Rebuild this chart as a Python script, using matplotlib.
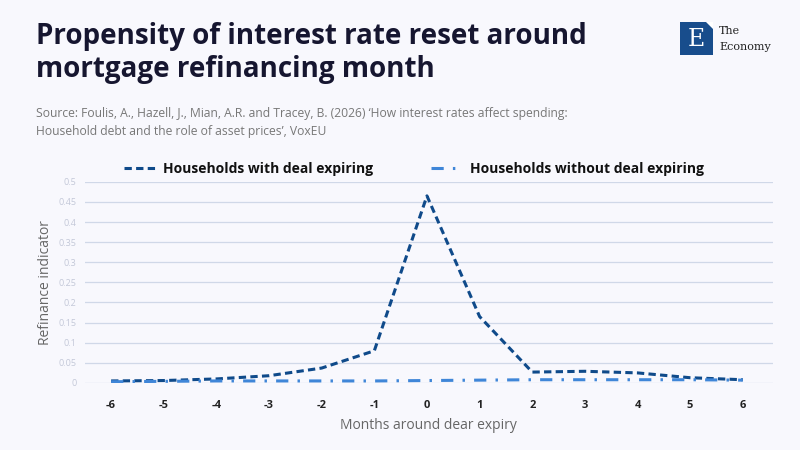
import matplotlib.pyplot as plt
from matplotlib.patches import Rectangle, Polygon

# datos
months = [-6, -5, -4, -3, -2, -1, 0, 1, 2, 3, 4, 5, 6]
with_deal = [0.005, 0.006, 0.010, 0.018, 0.037, 0.080, 0.465, 0.165, 0.027, 0.029, 0.025, 0.013, 0.008]
without_deal = [0.003, 0.004, 0.005, 0.005, 0.005, 0.005, 0.006, 0.007, 0.008, 0.008, 0.008, 0.008, 0.007]
yticks = [0, 0.05, 0.1, 0.15, 0.2, 0.25, 0.3, 0.35, 0.4, 0.45, 0.5]
ytick_labels = ['0', '0.05', '0.1', '0.15', '0.2', '0.25', '0.3', '0.35', '0.4', '0.45', '0.5']

bg = '#f8f8fd'
plt.rcParams['font.family'] = ['Open Sans', 'DejaVu Sans']

fig = plt.figure(figsize=(8, 4.5), dpi=100, facecolor=bg)
ax = fig.add_axes([0.106, 0.149, 0.86, 0.447], facecolor=bg)

ax.plot(months, with_deal, color='#0f4a8a', lw=2.2, ls=(0, (2.4, 1.4)),
        label='Households with deal expiring')
ax.plot(months, without_deal, color='#3f86d8', lw=2.2, ls=(0, (4, 3, 0.8, 3)),
        label='Households without deal expiring')

ax.set_xlim(-6.5, 6.57)
ax.set_ylim(0, 0.5)
ax.set_xticks(months)
ax.set_xticklabels([str(m) for m in months], fontsize=8, fontweight='bold', color='#222222')
ax.set_yticks(yticks)
ax.set_yticklabels(ytick_labels, fontsize=6.5, color='#c3c8d8')
ax.tick_params(length=0, pad=12, axis='x')
ax.tick_params(length=0, pad=6, axis='y')
ax.grid(axis='y', color='#d0d8e8', lw=0.9)
ax.set_axisbelow(True)
for s in ax.spines.values():
    s.set_visible(False)

ax.set_xlabel('Months around dear expiry', fontsize=10, color='#666666', labelpad=5)
ax.set_ylabel('Refinance indicator', fontsize=10, color='#666666', labelpad=4)

leg = ax.legend(loc='lower center', bbox_to_anchor=(0.478, 0.965), ncol=2, frameon=False,
                handlelength=2.3, handletextpad=0.5, columnspacing=4.2,
                prop={'weight': 'bold', 'size': 10})
for t in leg.get_texts():
    t.set_color('#111111')

# titulo
fig.text(0.045, 0.83, 'Propensity of interest rate reset around\nmortgage refinancing month',
         fontsize=20, fontweight='bold', color='#161630', linespacing=1.15)
fig.text(0.045, 0.70, 'Source: Foulis, A., Hazell, J., Mian, A.R. and Tracey, B. (2026) \u2018How interest rates affect spending:\n'
         'Household debt and the role of asset prices\u2019, VoxEU',
         fontsize=8.7, color='#777777', linespacing=1.5)

# logo
fig.patches.append(Rectangle((0.85, 0.878), 0.041, 0.073, transform=fig.transFigure,
                             facecolor='#184d8c', edgecolor='none'))
fig.patches.append(Polygon([[0.882, 0.951], [0.891, 0.951], [0.891, 0.936]], closed=True,
                           transform=fig.transFigure, facecolor='white', edgecolor='none'))
fig.text(0.8705, 0.913, 'E', fontsize=17, family='DejaVu Serif', color='white',
         ha='center', va='center')
fig.text(0.899, 0.93, 'The', fontsize=8, family='DejaVu Serif', color='#222222',
         va='center')
fig.text(0.899, 0.895, 'Economy', fontsize=8, family='DejaVu Serif', color='#222222',
         va='center')

fig.savefig('out.png', dpi=100, facecolor=bg)
